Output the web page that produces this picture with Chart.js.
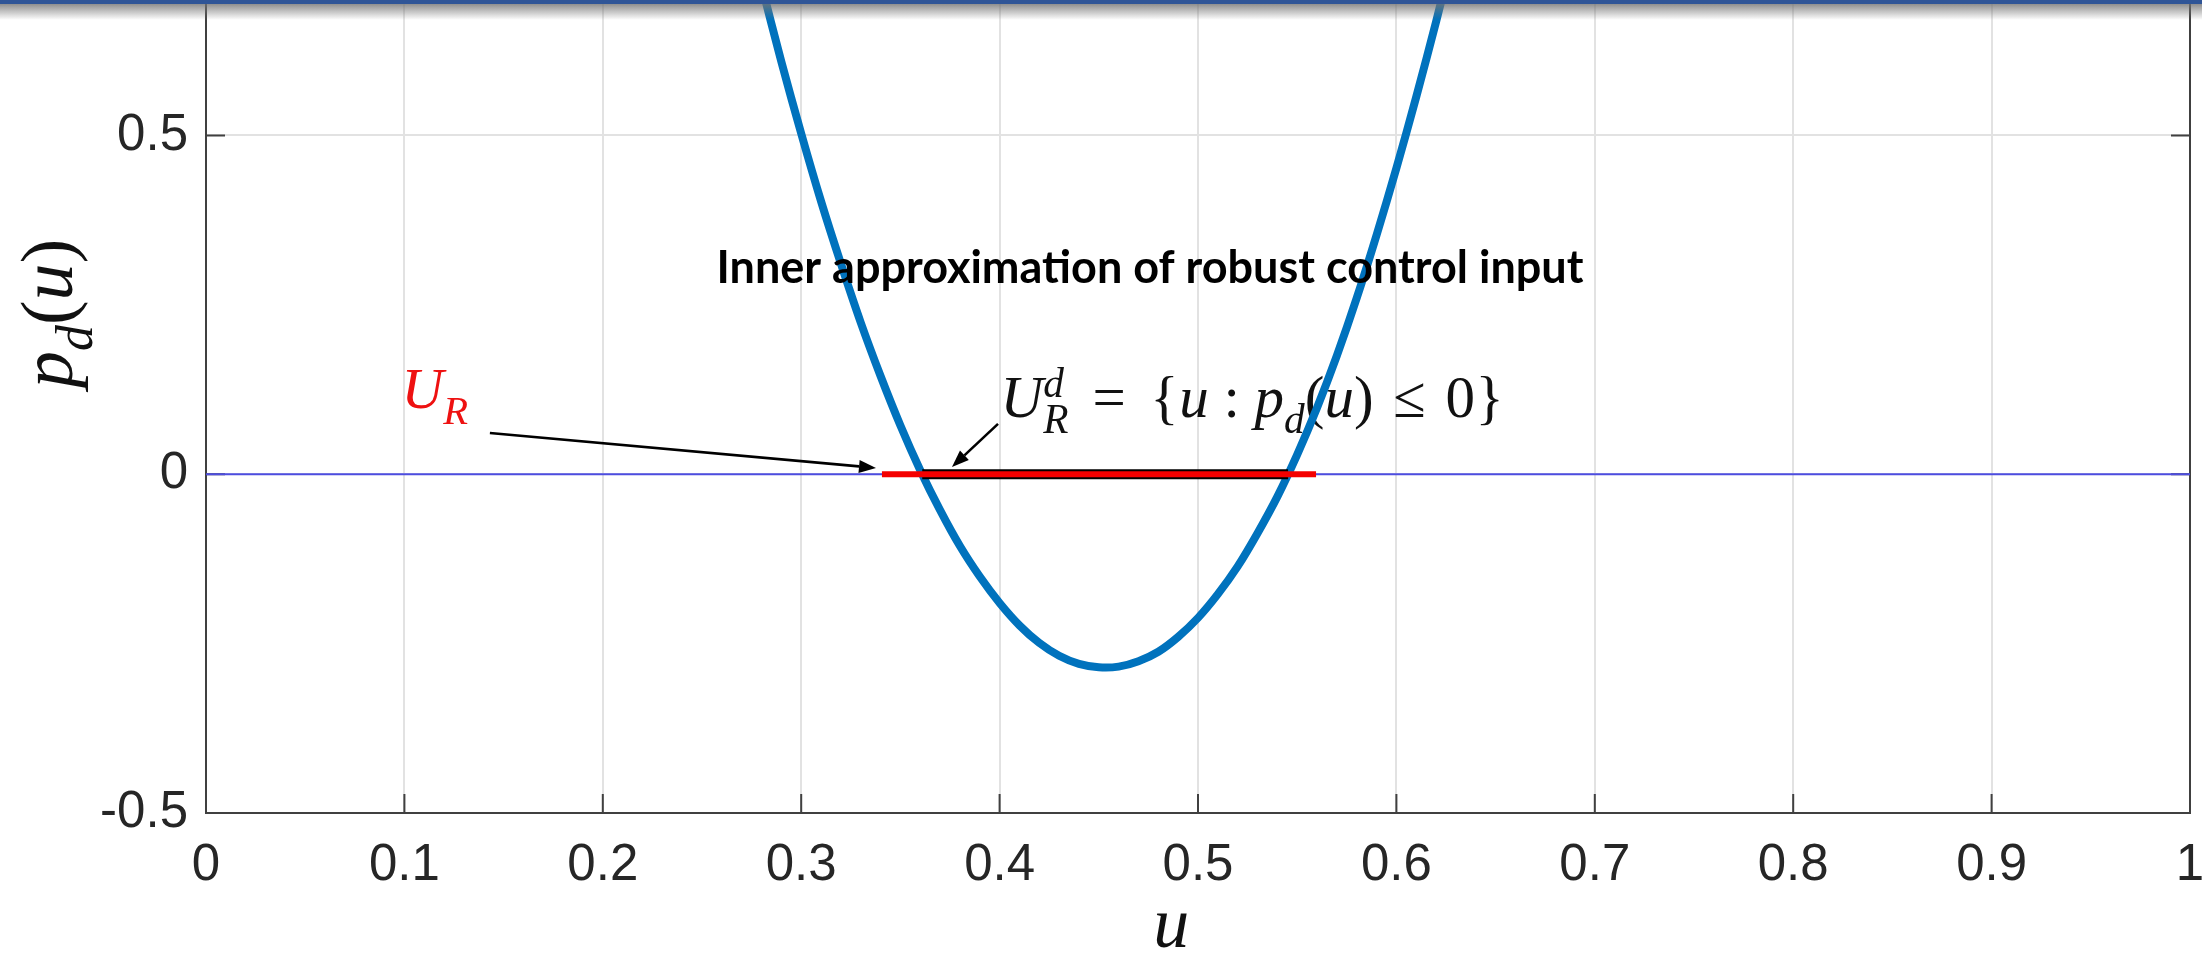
<!DOCTYPE html>
<html>
<head>
<meta charset="utf-8">
<script src="https://cdn.jsdelivr.net/npm/chart.js@4.4.0/dist/chart.umd.min.js"></script>
<style>
  html, body { margin: 0; padding: 0; background: #fff; overflow: hidden; }
  #wrap { position: relative; width: 2202px; height: 959px; }
  #myChart { position: absolute; left: 0; top: 0; }
  #topbar { position: absolute; left: 0; top: 0; width: 100%; height: 4px; background: #2f5597; }
  #shadow { position: absolute; left: 0; top: 4px; width: 100%; height: 16px;
            background: linear-gradient(to bottom, rgba(115,115,115,0.8), rgba(255,255,255,0)); }
</style>
</head>
<body>
<div id="wrap">
  <canvas id="myChart" width="2202" height="959"></canvas>
  <div id="shadow"></div>
  <div id="topbar"></div>
</div>
<script>
// p_d(u) sampled along u
const uGrid = [0.28, 0.29, 0.30, 0.31, 0.32, 0.33, 0.34, 0.35, 0.36, 0.37, 0.38, 0.39,
               0.40, 0.41, 0.42, 0.43, 0.44, 0.45, 0.46, 0.47, 0.48, 0.49, 0.50, 0.51,
               0.52, 0.53, 0.54, 0.55, 0.56, 0.57, 0.58, 0.59, 0.60, 0.61, 0.62, 0.63];
const pCurve = [0.722, 0.609, 0.503, 0.403, 0.311, 0.224, 0.145, 0.072, 0.006, -0.053, -0.106, -0.151,
                -0.190, -0.223, -0.249, -0.268, -0.280, -0.285, -0.284, -0.276, -0.262, -0.240, -0.212, -0.177,
                -0.136, -0.087, -0.033, 0.029, 0.098, 0.175, 0.260, 0.353, 0.452, 0.557, 0.668, 0.785];

// U_R and the inner set U_R^d on the u axis
const uRangeOuter = [0.3407, 0.5595];
const uRangeInner = [0.361, 0.5454];

const xTicks = [0, 0.1, 0.2, 0.3, 0.4, 0.5, 0.6, 0.7, 0.8, 0.9, 1];
const xTickLabels = ['0', '0.1', '0.2', '0.3', '0.4', '0.5', '0.6', '0.7', '0.8', '0.9', '1'];
const yTicks = [-0.5, 0, 0.5];
const yTickLabels = ['-0.5', '0', '0.5'];

const titleText = 'Inner approximation of robust control input';

const mathFont = '"Liberation Serif", "Times New Roman", serif';
const tickFont = { family: '"Liberation Sans", Arial, sans-serif', size: 51 };

// draw a run of math-ish text: italics, sub/superscripts, fixed-width relations
function drawMath(ctx, x, y, parts, size, color) {
  ctx.save();
  ctx.fillStyle = color;
  ctx.textBaseline = 'alphabetic';
  ctx.textAlign = 'left';
  let cx = x, prevStart = x;
  parts.forEach(p => {
    if (p.space) { cx += p.space * size; return; }
    const s = (p.sub || p.sup) ? size * 0.7 : size;
    ctx.font = (p.it ? 'italic ' : '') + s + 'px ' + mathFont;
    const px = p.stack ? prevStart : cx;
    const dy = p.sub ? size * 0.27 : p.sup ? -size * 0.34 : 0;
    const gw = ctx.measureText(p.t).width;
    const adv = p.w ? p.w * size : gw;
    ctx.fillText(p.t, px + (adv - gw) / 2, y + dy);
    const end = px + adv;
    cx = p.stack ? Math.max(cx, end) : end;
    prevStart = px;
  });
  ctx.restore();
  return cx;
}

function drawArrow(ctx, x0, y0, x1, y1) {
  const a = Math.atan2(y1 - y0, x1 - x0);
  const len = 17, half = 6.5;
  const bx = x1 - len * Math.cos(a), by = y1 - len * Math.sin(a);
  ctx.save();
  ctx.strokeStyle = '#000';
  ctx.fillStyle = '#000';
  ctx.lineWidth = 2.6;
  ctx.beginPath();
  ctx.moveTo(x0, y0);
  ctx.lineTo(bx, by);
  ctx.stroke();
  ctx.beginPath();
  ctx.moveTo(x1, y1);
  ctx.lineTo(bx + half * Math.sin(a), by - half * Math.cos(a));
  ctx.lineTo(bx - half * Math.sin(a), by + half * Math.cos(a));
  ctx.closePath();
  ctx.fill();
  ctx.restore();
}

const eqParts = [
  { t: 'U', it: 1 }, { t: 'R', it: 1, sub: 1 }, { t: 'd', it: 1, sup: 1, stack: 1 },
  { space: 0.3 }, { t: '=', w: 0.778 }, { space: 0.3 },
  { t: '{', w: 0.5 }, { t: 'u', it: 1 }, { space: 0.25 }, { t: ':' }, { space: 0.25 },
  { t: 'p', it: 1 }, { t: 'd', it: 1, sub: 1 }, { t: '(' }, { t: 'u', it: 1 }, { t: ')' },
  { space: 0.22 }, { t: '\u2264', w: 0.778 }, { space: 0.22 }, { t: '0' }, { t: '}', w: 0.5 }
];
const urParts = [{ t: 'U', it: 1 }, { t: 'R', it: 1, sub: 1 }];
const yLabelParts = [{ t: 'p', it: 1 }, { t: 'd', it: 1, sub: 1 }, { t: '(' }, { t: 'u', it: 1 }, { t: ')' }];

// axes box with inward ticks, plus the text under the curve
const boxPlugin = {
  id: 'box',
  beforeDatasetsDraw(chart) {
    const { ctx, chartArea: { left, right, top, bottom } } = chart;
    const x = chart.scales.x, y = chart.scales.y;
    ctx.save();
    ctx.strokeStyle = '#404040';
    ctx.lineWidth = 2;
    ctx.beginPath();
    ctx.moveTo(left, top); ctx.lineTo(left, bottom); ctx.lineTo(right, bottom); ctx.lineTo(right, top);
    xTicks.forEach(v => {
      const px = x.getPixelForValue(v);
      ctx.moveTo(px, bottom); ctx.lineTo(px, bottom - 19);
    });
    yTicks.forEach(v => {
      const py = y.getPixelForValue(v);
      ctx.moveTo(left, py); ctx.lineTo(left + 19, py);
      ctx.moveTo(right, py); ctx.lineTo(right - 19, py);
    });
    ctx.stroke();
    ctx.restore();

    // set definition sits behind the curve
    drawMath(ctx, x.getPixelForValue(0.4005), y.getPixelForValue(0.085), eqParts, 59, '#111');
  },
  afterDatasetsDraw(chart) {
    const { ctx } = chart;
    const x = chart.scales.x, y = chart.scales.y;

    drawMath(ctx, x.getPixelForValue(0.0985), y.getPixelForValue(0.098), urParts, 58, '#ee1111');

    drawArrow(ctx, x.getPixelForValue(0.1431), y.getPixelForValue(0.061),
                   x.getPixelForValue(0.3377), y.getPixelForValue(0.0093));
    drawArrow(ctx, x.getPixelForValue(0.3992), y.getPixelForValue(0.0743),
                   x.getPixelForValue(0.3760), y.getPixelForValue(0.0108));

    // title, bold sans sized to its box
    ctx.save();
    ctx.font = 'bold 44px Lato, "Open Sans", sans-serif';
    const size = 44 * 866 / ctx.measureText(titleText).width;
    ctx.font = 'bold ' + size.toFixed(1) + 'px Lato, "Open Sans", sans-serif';
    ctx.fillStyle = '#000';
    ctx.textAlign = 'center';
    ctx.textBaseline = 'alphabetic';
    ctx.fillText(titleText, x.getPixelForValue(0.4758), y.getPixelForValue(0.2824));
    ctx.restore();

    // axis labels
    ctx.save();
    ctx.font = 'italic 72px ' + mathFont;
    const uw = ctx.measureText('u').width;
    ctx.restore();
    drawMath(ctx, x.getPixelForValue(0.4865) - uw / 2, chart.height - 12, [{ t: 'u', it: 1 }], 72, '#111');

    ctx.save();
    ctx.translate(72, 314);
    ctx.rotate(-Math.PI / 2);
    drawMath(ctx, -74, 0, yLabelParts, 74, '#111');
    ctx.restore();
  }
};

const data = {
  datasets: [{
    label: 'zero',
    data: [{ x: 0, y: 0 }, { x: 1, y: 0 }],
    borderColor: '#4d4de0',
    borderWidth: 2,
    order: 4
  }, {
    label: 'p_d(u)',
    data: uGrid.map((u, i) => ({ x: u, y: pCurve[i] })),
    borderColor: '#0072bd',
    borderWidth: 8,
    tension: 0.35,
    order: 3
  }, {
    label: 'U_R^d',
    data: uRangeInner.map(u => ({ x: u, y: 0 })),
    borderColor: '#000',
    borderWidth: 10,
    order: 2
  }, {
    label: 'U_R',
    data: uRangeOuter.map(u => ({ x: u, y: 0 })),
    borderColor: '#f40000',
    borderWidth: 6,
    order: 1
  }]
};

const config = {
  type: 'scatter',
  data: data,
  options: {
    responsive: false,
    animation: false,
    events: [],
    showLine: true,
    elements: { point: { radius: 0 }, line: { borderCapStyle: 'butt' } },
    layout: { padding: { top: 0, right: 12, bottom: 0, left: 0 } },
    plugins: {
      legend: { display: false },
      tooltip: { enabled: false }
    },
    scales: {
      x: {
        type: 'linear',
        min: 0,
        max: 1,
        afterBuildTicks: s => { s.ticks = xTicks.map(v => ({ value: v })); },
        afterFit: s => { s.height = 146; s.paddingLeft = 0; s.paddingRight = 0; },
        ticks: {
          callback: (v, i) => xTickLabels[i],
          font: tickFont,
          color: '#262626',
          padding: 22,
          maxRotation: 0,
          autoSkip: false
        },
        grid: { color: '#e2e2e2', lineWidth: 2, drawTicks: false },
        border: { display: false }
      },
      y: {
        type: 'linear',
        min: -0.5,
        max: 0.7,
        afterBuildTicks: s => { s.ticks = yTicks.map(v => ({ value: v })); },
        afterFit: s => { s.width = 206; s.paddingTop = 0; s.paddingBottom = 0; },
        ticks: {
          callback: (v, i) => yTickLabels[i],
          font: tickFont,
          color: '#262626',
          padding: 18,
          autoSkip: false
        },
        grid: { color: '#e2e2e2', lineWidth: 2, drawTicks: false },
        border: { display: false }
      }
    }
  },
  plugins: [boxPlugin]
};

const myChart = new Chart(document.getElementById('myChart'), config);
</script>
</body>
</html>
